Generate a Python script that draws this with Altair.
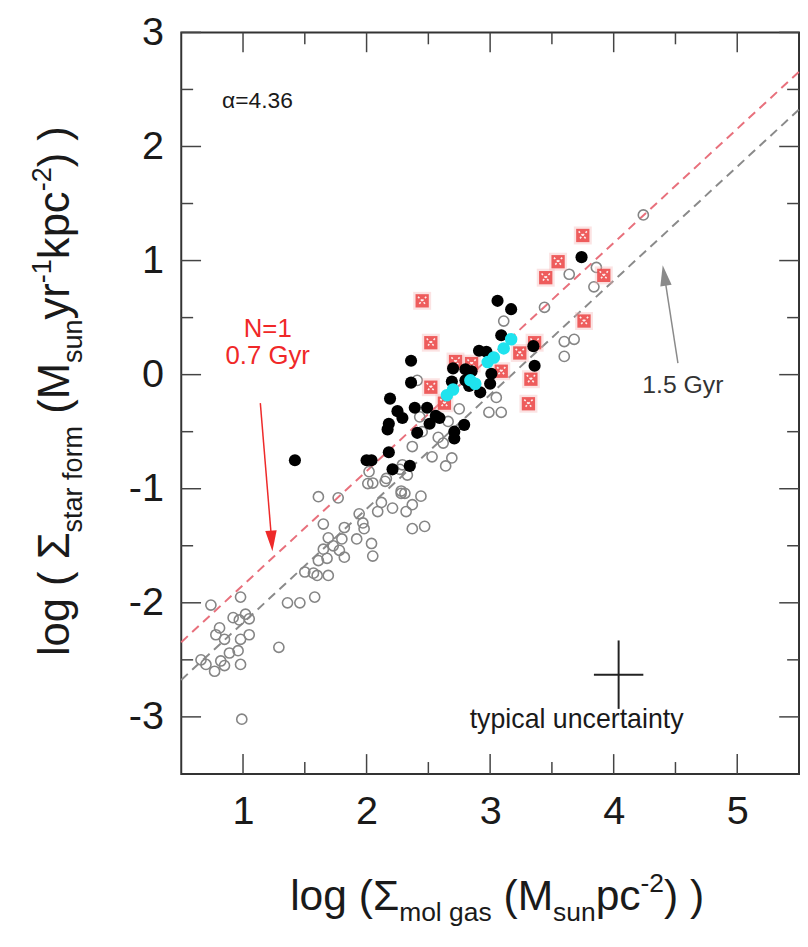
import altair as alt
import pandas as pd

# ---------------- data ----------------
open_x = [1.61, 1.77, 1.94, 2.01, 2.15, 2.12, 2.28, 2.31, 2.44, 2.32, 2.37, 2.21, 2.09, 1.97, 1.98,
          1.92, 1.82, 1.65, 1.69, 1.73, 1.80, 1.78, 1.82, 1.65, 1.68, 1.61, 1.60, 1.69, 1.50, 1.57,
          2.04, 2.05, 2.37, 2.47, 1.36, 1.46, 1.58, 1.29, 0.74, 0.98, 0.92, 0.97, 1.02, 1.05, 0.81,
          0.78, 0.85, 0.98, 1.05, 0.96, 0.89, 0.82, 0.98, 0.70, 0.77, 0.85, 0.99, 0.66,
          3.11, 3.44, 3.84, 3.64, 3.60, 3.68, 3.60, 3.05, 2.99, 3.09, 2.66, 2.43, 2.41, 2.53, 2.64,
          2.69, 2.37, 2.29, 2.27, 2.33, 2.16, 2.02, 2.05, 2.28, 4.24, 3.86, 2.45, 2.58, 2.62, 2.75]
open_y = [-1.07, -1.08, -1.22, -0.955, -0.935, -1.12, -1.04, -1.04, -1.065, -1.20, -1.14, -1.17, -1.20, -1.30, -1.35,
          -1.44, -1.34, -1.31, -1.43, -1.50, -1.44, -1.54, -1.60, -1.53, -1.61, -1.63, -1.76, -1.76, -1.73, -1.74,
          -1.48, -1.59, -1.35, -1.33, -2.00, -2.00, -1.95, -2.39, -2.02, -1.95, -2.13, -2.15, -2.10, -2.14, -2.22,
          -2.28, -2.32, -2.32, -2.28, -2.42, -2.44, -2.51, -2.54, -2.54, -2.60, -2.55, -3.02, -2.50,
          0.47, 0.59, 0.77, 0.88, 0.29, 0.31, 0.16, -0.20, -0.33, -0.33, -0.41, -0.37, -0.05, -0.72, -0.80,
          -0.73, -0.63, -0.79, -0.83, -0.88, -0.91, -0.85, -0.95, -1.02, 1.40, 0.94, -0.50, -0.55, -0.60, -0.30]

black_x = [3.06, 3.17, 3.09, 2.36, 2.91, 2.97, 2.70, 2.80, 2.85, 2.69, 2.80, 2.83, 2.92, 3.00, 3.01,
           3.35, 3.36, 2.36, 2.19, 2.39, 2.49, 2.25, 2.29, 2.18, 2.17, 2.56, 2.51, 2.59, 2.41, 2.79,
           2.71, 2.71, 2.18, 2.04, 2.21, 2.35, 2.00, 1.42, 3.74]
black_y = [0.647, 0.574, 0.345, 0.122, 0.21, 0.20, 0.055, 0.047, 0.03, -0.06, -0.05, -0.10, -0.155, -0.08, 0.008,
           0.25, 0.078, -0.07, -0.21, -0.29, -0.29, -0.32, -0.38, -0.43, -0.48, -0.36, -0.43, -0.38, -0.51, -0.44,
           -0.50, -0.56, -0.68, -0.75, -0.83, -0.80, -0.75, -0.75, 1.03]

sq_x = [3.75, 3.55, 3.45, 3.92, 3.76, 2.45, 2.52, 3.36, 3.24, 3.09, 3.33, 3.31, 2.72, 2.85, 2.52, 2.63]
sq_y = [1.22, 0.99, 0.85, 0.87, 0.47, 0.647, 0.28, 0.28, 0.19, 0.03, -0.04, -0.255, 0.115, 0.097, -0.11, -0.25]

cyan_x = [2.65, 2.70, 2.84, 2.88, 2.98, 3.03, 3.11, 3.17]
cyan_y = [-0.18, -0.13, -0.05, -0.08, 0.11, 0.15, 0.23, 0.31]

# constant depletion-time lines (0.7 Gyr and 1.5 Gyr), end points
red_line_x = [0.5, 5.5]
red_line_y = [-2.345, 2.655]
gray_line_x = [0.5, 5.5]
gray_line_y = [-2.676, 2.324]

# typical uncertainty cross
unc_x, unc_y, unc_ex, unc_ey = [4.04], [-2.63], [0.20], [0.30]

# arrows: shaft start, head centre
red_arrow = {"x": [1.14], "y": [-0.25], "x2": [1.232], "y2": [-1.458]}
gray_arrow = {"x": [4.52], "y": [0.10], "x2": [4.41], "y2": [0.87]}

x_major = [1, 2, 3, 4, 5]
x_minor = [1.5, 2.5, 3.5, 4.5]
y_major = [-3, -2, -1, 0, 1, 2, 3]
y_minor = [-2.5, -1.5, -0.5, 0.5, 1.5, 2.5]

# ---------------- layout / style ----------------
W, H = 624, 749
FONT = "Liberation Sans"
TXT = "#1a1a1a"
TICK = "#444444"

xs = alt.Scale(domain=[0.5, 5.5], nice=False, zero=False)
ys = alt.Scale(domain=[-3.5, 3], nice=False, zero=False)
xaxis = alt.Axis(values=x_major, ticks=False, tickSize=0, domain=False, grid=False,
                 labelFontSize=40, labelFont=FONT, labelColor=TXT, labelPadding=18,
                 labelExpr="'' + datum.value", title=None)
yaxis = alt.Axis(values=y_major, ticks=False, tickSize=0, domain=False, grid=False,
                 labelFontSize=40, labelFont=FONT, labelColor=TXT, labelPadding=18,
                 labelExpr="'' + datum.value", title=None)


def X(f):
    return alt.X(f"{f}:Q", scale=xs, axis=xaxis, title=None)


def Y(f):
    return alt.Y(f"{f}:Q", scale=ys, axis=yaxis, title=None)


layers = []

# dashed lines
for lx, ly, col in [(red_line_x, red_line_y, "#e8707c"), (gray_line_x, gray_line_y, "#8a8a8a")]:
    layers.append(alt.Chart(pd.DataFrame({"x": lx, "y": ly})).mark_line(
        color=col, strokeWidth=2, strokeDash=[9, 6]).encode(x=X("x"), y=Y("y")))

# points
layers.append(alt.Chart(pd.DataFrame({"x": open_x, "y": open_y})).mark_point(
    shape="circle", filled=False, stroke="#858585", strokeWidth=1.6, size=105, opacity=1
).encode(x=X("x"), y=Y("y")))

sq_df = pd.DataFrame({"x": sq_x, "y": sq_y})
layers.append(alt.Chart(sq_df).mark_square(color="#f4b0b0", size=330, opacity=0.35).encode(x=X("x"), y=Y("y")))
layers.append(alt.Chart(sq_df).mark_square(color="#ec4d4d", size=180, opacity=0.9).encode(x=X("x"), y=Y("y")))
layers.append(alt.Chart(sq_df).mark_point(shape="M-1,-1L1,1M1,-1L-1,1", filled=False, stroke="white",
                                          strokeWidth=1.6, size=70, opacity=0.9,
                                          strokeDash=[2, 2]).encode(x=X("x"), y=Y("y")))

layers.append(alt.Chart(pd.DataFrame({"x": black_x, "y": black_y})).mark_circle(
    color="black", size=150, opacity=1).encode(x=X("x"), y=Y("y")))
layers.append(alt.Chart(pd.DataFrame({"x": cyan_x, "y": cyan_y})).mark_circle(
    color="#1fe3ee", size=160, opacity=1).encode(x=X("x"), y=Y("y")))

# uncertainty cross
unc = pd.DataFrame({"cx": unc_x, "cy": unc_y, "ex": unc_ex, "ey": unc_ey})
layers.append(alt.Chart(unc).transform_calculate(
    a="datum.cx - datum.ex", b="datum.cx + datum.ex").mark_rule(color="#222", strokeWidth=2).encode(
    x=X("a"), x2="b:Q", y=Y("cy")))
layers.append(alt.Chart(unc).transform_calculate(
    a="datum.cy - datum.ey", b="datum.cy + datum.ey").mark_rule(color="#222", strokeWidth=2).encode(
    x=X("cx"), y=Y("a"), y2="b:Q"))

# arrows
for arr, col, shape, ang in [
        (red_arrow, "#ee2a2a", "M0,1L-0.55,-1L0.55,-1Z", 356),
        (gray_arrow, "#8a8a8a", "M0,-1L-0.55,1L0.55,1Z", 351)]:
    adf = pd.DataFrame(arr)
    layers.append(alt.Chart(adf).mark_rule(color=col, strokeWidth=1.5).encode(
        x=X("x"), y=Y("y"), x2="x2:Q", y2="y2:Q"))
    layers.append(alt.Chart(adf).mark_point(shape=shape, filled=True, color=col, size=440,
                                            angle=ang, opacity=1).encode(x=X("x2"), y=Y("y2")))

# annotations
ann = [
    ("α=4.36", 0.83, 2.40, 23, TXT, "left"),
    ("N=1", 1.20, 0.40, 26, "#f02828", "center"),
    ("0.7 Gyr", 1.20, 0.16, 26, "#f02828", "center"),
    ("1.5 Gyr", 4.56, -0.09, 25, "#333333", "center"),
    ("typical uncertainty", 3.70, -3.03, 27, TXT, "center"),
]
for t, ax, ay, fs, col, al in ann:
    layers.append(alt.Chart(pd.DataFrame({"x": [ax], "y": [ay], "t": [t]})).mark_text(
        font=FONT, fontSize=fs, color=col, align=al, baseline="middle").encode(
        x=X("x"), y=Y("y"), text="t:N"))

# inward ticks on all four sides
for vals, ln in [(x_major, 20), (x_minor, 12)]:
    d = pd.DataFrame({"v": vals})
    layers.append(alt.Chart(d).mark_rule(color=TICK, strokeWidth=1.5).encode(
        x=X("v"), y=alt.value(H), y2=alt.value(H - ln)))
    layers.append(alt.Chart(d).mark_rule(color=TICK, strokeWidth=1.5).encode(
        x=X("v"), y=alt.value(0), y2=alt.value(ln)))
for vals, ln in [(y_major, 20), (y_minor, 12)]:
    d = pd.DataFrame({"v": vals})
    layers.append(alt.Chart(d).mark_rule(color=TICK, strokeWidth=1.5).encode(
        y=Y("v"), x=alt.value(0), x2=alt.value(ln)))
    layers.append(alt.Chart(d).mark_rule(color=TICK, strokeWidth=1.5).encode(
        y=Y("v"), x=alt.value(W), x2=alt.value(W - ln)))

# ---------------- axis titles with sub/superscripts ----------------
CW = {' ': 278, '(': 333, ')': 333, '-': 333, '1': 556, '2': 556, 'l': 222, 'o': 556, 'g': 556,
      'Σ': 617, 'M': 833, 's': 500, 'u': 556, 'n': 556, 'p': 556, 'c': 500, 't': 278, 'a': 556,
      'r': 333, 'f': 278, 'm': 833, 'y': 500, 'k': 500}


def title_layers(parts, x0, y0, F, rotated):
    out = []
    pos = 0.0
    for text, kind in parts:
        size = F if kind == "n" else F * 0.62
        lead = len(text) - len(text.lstrip())
        start = pos + lead * CW[' '] * size / 1000
        pos += sum(CW[c] for c in text) * size / 1000
        shift = {"n": 0, "sub": 0.28 * F, "sup": -0.42 * F}[kind]
        if rotated:
            px, py, ang = x0 + shift, y0 - start, 270
        else:
            px, py, ang = x0 + start, y0 + shift, 0
        out.append(alt.Chart(pd.DataFrame({"a": [0]})).mark_text(
            text=text.strip(), font=FONT, fontSize=size, color=TXT, align="left",
            baseline="alphabetic", angle=ang).encode(x=alt.value(px), y=alt.value(py)))
    return out


xt_parts = [("log (", "n"), ("Σ", "n"), ("mol gas", "sub"), (" (M", "n"), ("sun", "sub"),
            ("pc", "n"), ("-2", "sup"), (") )", "n")]
yt_parts = [("log ( ", "n"), ("Σ", "n"), ("star form", "sub"), (" (M", "n"), ("sun", "sub"),
            ("yr", "n"), ("-1", "sup"), ("kpc", "n"), ("-2", "sup"), (") )", "n")]
layers += title_layers(xt_parts, 110, 886, 43, False)
layers += title_layers(yt_parts, -113, 630, 44, True)

chart = alt.layer(*layers).properties(
    width=W, height=H, autosize="none",
    padding={"left": 175, "top": 20, "right": 1, "bottom": 153}
).configure_view(stroke="#333333", strokeWidth=2)

chart.save("out.html", embed_options={"renderer": "svg", "actions": False})
